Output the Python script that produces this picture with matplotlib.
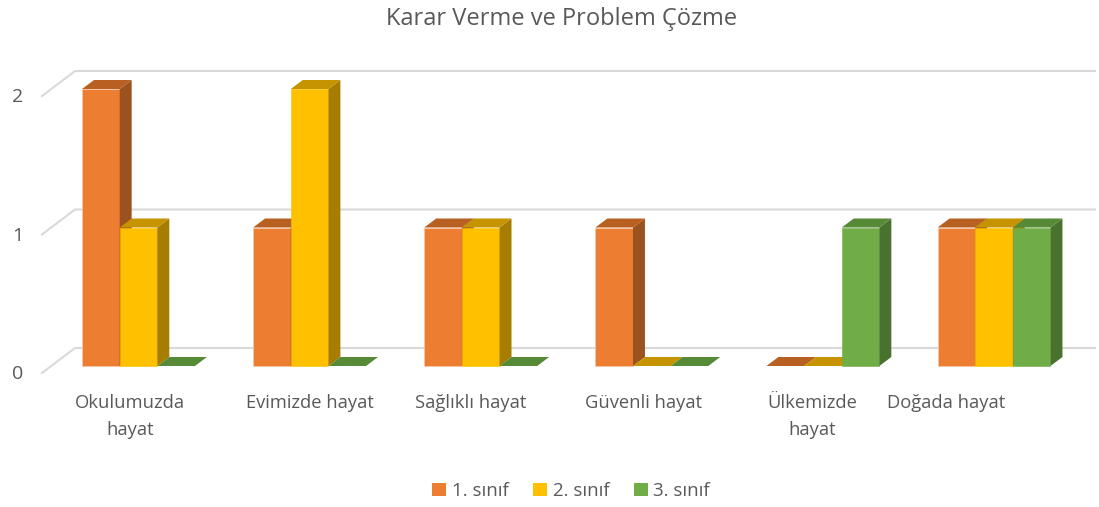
import numpy as np
import matplotlib
matplotlib.use('Agg')
import matplotlib.pyplot as plt
from matplotlib.patches import Polygon, Patch

categories = ['Okulumuzda\nhayat', 'Evimizde hayat', 'Sağlıklı hayat', 'Güvenli hayat', 'Ülkemizde\nhayat', 'Doğada hayat']
series_names = ['1. sınıf', '2. sınıf', '3. sınıf']
sinif1 = [2, 1, 1, 1, 0, 1]
sinif2 = [1, 2, 1, 0, 0, 1]
sinif3 = [0, 0, 0, 0, 1, 1]
y_ticks = [0, 1, 2]

# front, side, top colours for each series
FRONT = ['#ED7D31', '#FFC000', '#70AD47']
SIDE = ['#9C521F', '#A67D00', '#4A722F']
TOP = ['#B85F22', '#C59400', '#578A36']

plt.rcParams['font.family'] = ['Open Sans', 'DejaVu Sans']
TXT = '#595959'

fig = plt.figure(figsize=(10.99, 5.07), dpi=100)
ax = fig.add_axes([0, 0, 1, 1])
ax.axis('off')
# pixel -> data mapping (category step 171 px, 138.5 px per unit)
ax.set_xlim(-138.5 / 171.1, (1099 - 138.5) / 171.1)
ax.set_ylim((366 - 507) / 138.5, 366 / 138.5)

bw = 0.22          # bar width in category units
ddx, ddy = 0.07, 0.065   # bar depth offset
gdx, gdy = 33 / 171.1, 25 / 138.5  # wall depth offset
gx0 = (42 - 138.5) / 171.1
gx1 = (1095 - 138.5) / 171.1
gz = (373 - 366) / 138.5

# gridlines with the small floor diagonal
for v in y_ticks:
    y0 = v - gz
    ax.plot([gx0, gx0 + gdx, gx1], [y0, y0 + gdy, y0 + gdy], color='#D9D9D9', lw=1.5, zorder=1)
    ax.text(gx0 - 0.14, y0 - 0.01, str(v), ha='center', va='center', fontsize=14, color=TXT)

x = np.arange(len(categories))
data = [sinif1, sinif2, sinif3]
for s, vals in enumerate(data):
    for i, v in enumerate(vals):
        left = x[i] - 1.5 * bw + s * bw
        right = left + bw
        if v > 0:
            ax.bar(left, v, width=bw, align='edge', color=FRONT[s], edgecolor='#F8CBAD' if s == 0 else FRONT[s],
                   linewidth=0.4, zorder=3 + s)
            ax.add_patch(Polygon([(right, 0), (right + ddx, ddy), (right + ddx, v + ddy), (right, v)],
                                 closed=True, facecolor=SIDE[s], edgecolor='none', zorder=3 + s))
        ax.add_patch(Polygon([(left, v), (right, v), (right + ddx, v + ddy), (left + ddx, v + ddy)],
                             closed=True, facecolor=TOP[s], edgecolor='none', zorder=3 + s))

label_x = [-0.05, 1.0, 1.94, 2.95, 3.94, 4.72]
for lx, lab in zip(label_x, categories):
    ax.text(lx, (366 - 394) / 138.5, lab, ha='center', va='top', fontsize=13.2, color=TXT, linespacing=1.62)

ax.text((562 - 138.5) / 171.1, (366 - 19) / 138.5, 'Karar Verme ve Problem Çözme', ha='center', va='center',
        fontsize=17, color=TXT)

handles = [Patch(facecolor=c) for c in FRONT]
fig.legend(handles, series_names, loc='center', bbox_to_anchor=(571 / 1099, 1 - 491 / 507), ncol=3, frameon=False,
           fontsize=13.5, labelcolor=TXT, handlelength=0.75, handleheight=0.75, handletextpad=0.3, columnspacing=1.3)

fig.savefig('out.png', dpi=100)
